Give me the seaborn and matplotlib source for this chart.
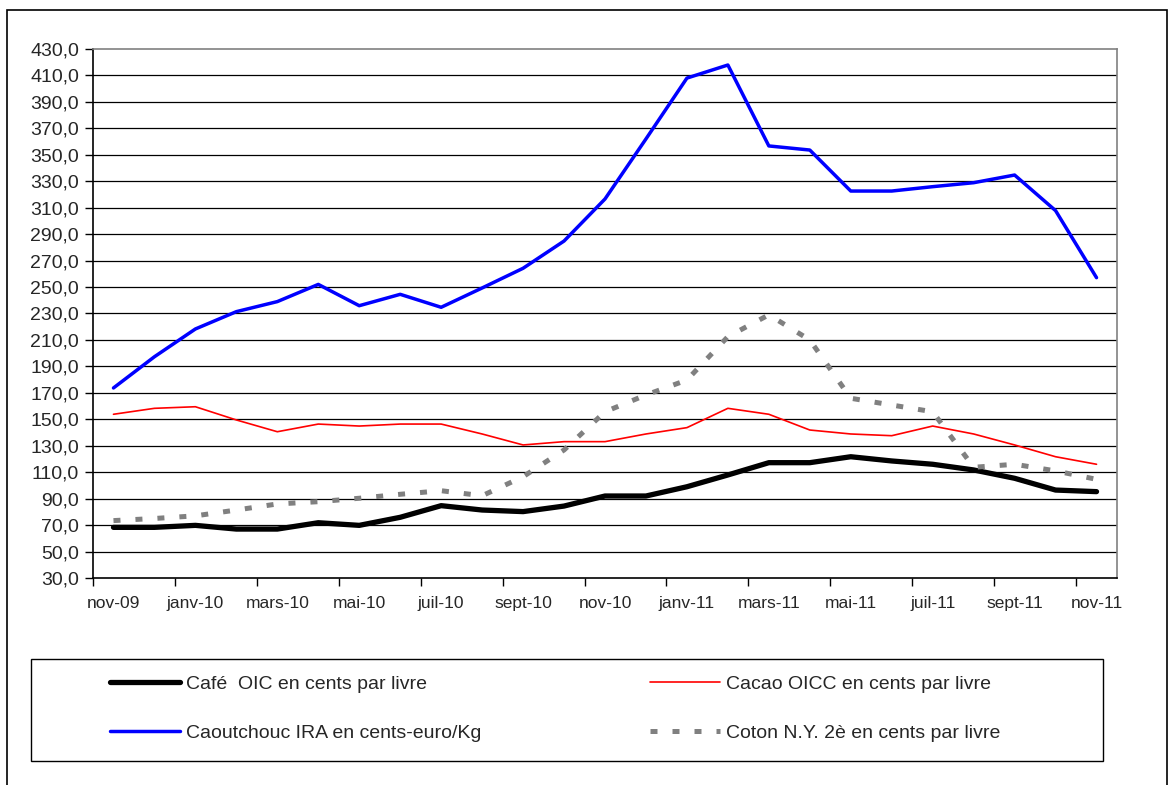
import matplotlib
matplotlib.use("Agg")
import matplotlib.pyplot as plt
import seaborn as sns
from matplotlib.patches import Rectangle
from matplotlib.ticker import FixedLocator, FuncFormatter

# monthly data, nov-09 .. nov-11
months = ["nov-09", "déc-09", "janv-10", "févr-10", "mars-10", "avr-10", "mai-10",
          "juin-10", "juil-10", "août-10", "sept-10", "oct-10", "nov-10", "déc-10",
          "janv-11", "févr-11", "mars-11", "avr-11", "mai-11", "juin-11", "juil-11",
          "août-11", "sept-11", "oct-11", "nov-11"]

cafe = [68.3, 68.3, 69.8, 67.0, 67.0, 71.8, 69.8, 75.9, 84.7, 81.4, 80.2, 84.4, 92.0,
        92.0, 99.0, 107.9, 117.2, 117.2, 121.7, 118.5, 116.0, 111.7, 105.4, 96.5, 95.3]
cacao = [153.8, 158.3, 159.5, 149.5, 140.6, 146.4, 144.9, 146.4, 146.4, 138.9, 130.6,
         133.1, 133.1, 138.9, 143.7, 158.3, 153.8, 141.9, 138.9, 137.6, 144.9, 138.9,
         130.6, 121.7, 116.0]
caoutchouc = [173.7, 197.3, 218.3, 231.4, 239.0, 252.0, 235.9, 244.5, 234.7, 249.3,
              264.2, 284.8, 316.6, 362.0, 408.0, 417.9, 356.7, 353.6, 322.6, 322.6,
              325.9, 328.9, 334.7, 307.8, 257.1]
coton = [73.4, 75.0, 77.0, 81.4, 86.0, 87.7, 90.3, 93.3, 96.0, 92.2, 106.6, 126.8, 155.7,
         168.4, 179.7, 212.5, 229.0, 210.0, 165.9, 160.8, 155.7, 113.7, 116.0, 111.0, 104.6]

labels = ["Café  OIC en cents par livre", "Cacao OICC en cents par livre",
          "Caoutchouc IRA en cents-euro/Kg", "Coton N.Y. 2è en cents par livre"]

sns.set_style("white")
plt.rcParams['font.family'] = ['Liberation Sans', 'DejaVu Sans']

W, H = 1169, 785
fig = plt.figure(figsize=(W / 100, H / 100), dpi=100)
ax = fig.add_axes([93 / W, 1 - 578 / H, (1117 - 93) / W, (578 - 49) / H])

x = list(range(len(months)))

sns.lineplot(x=x, y=cafe, ax=ax, color="black", lw=3.8, label=labels[0])
sns.lineplot(x=x, y=cacao, ax=ax, color="#ff0000", lw=1.2, label=labels[1])
sns.lineplot(x=x, y=caoutchouc, ax=ax, color="#0000ff", lw=2.5, label=labels[2])
sns.lineplot(x=x, y=coton, ax=ax, color="#808080", lw=3.6, label=labels[3],
             linestyle=(0, (1.4, 3.0)))

ax.set_xlim(-0.5, len(months) - 0.5)
ax.set_ylim(30, 430)

# y axis
yt = list(range(30, 431, 20))
ax.set_yticks(yt)
ax.yaxis.set_major_formatter(FuncFormatter(lambda v, p: f"{v:.1f}".replace(".", ",")))
ax.tick_params(axis="y", direction="out", length=6, width=1, color="black",
               labelsize=14, pad=4, left=True)
for v in yt[1:-1]:
    ax.axhline(v, color="black", lw=0.9, zorder=0)

# x axis: labels every 2nd month, tick marks between categories
ax.set_xticks(x[::2])
ax.set_xticklabels(months[::2])
ax.tick_params(axis="x", which="major", length=0, labelsize=12.5, pad=13)
ax.xaxis.set_minor_locator(FixedLocator([i - 0.5 for i in range(0, len(months), 2)]))
ax.tick_params(axis="x", which="minor", direction="out", length=6, width=1,
               color="black", bottom=True)

for s in ["left", "bottom"]:
    ax.spines[s].set_color("black")
    ax.spines[s].set_linewidth(1.2)
for s in ["top", "right"]:
    ax.spines[s].set_color("#808080")
    ax.spines[s].set_linewidth(1.2)

ax.get_legend().remove()
handles, labs = ax.get_legend_handles_labels()
order = [0, 2, 1, 3]
fig.legend([handles[i] for i in order], [labs[i] for i in order],
           loc="upper left", bbox_to_anchor=(110 / W, 1 - 675 / H), ncol=2,
           frameon=False, fontsize=14, handlelength=3.6, handletextpad=0.3,
           columnspacing=8.7, labelspacing=1.62, borderpad=0, borderaxespad=0)

# legend box and outer chart border
fig.patches.append(Rectangle((31 / W, 1 - 761 / H), (1103 - 31) / W, (761 - 659) / H,
                             transform=fig.transFigure, fill=False,
                             edgecolor="black", lw=1.0))
fig.patches.append(Rectangle((7 / W, -0.05), (1167 - 7) / W, 1.05 - 10 / H,
                             transform=fig.transFigure, fill=False,
                             edgecolor="black", lw=1.2))

fig.savefig("out.png", dpi=100)
